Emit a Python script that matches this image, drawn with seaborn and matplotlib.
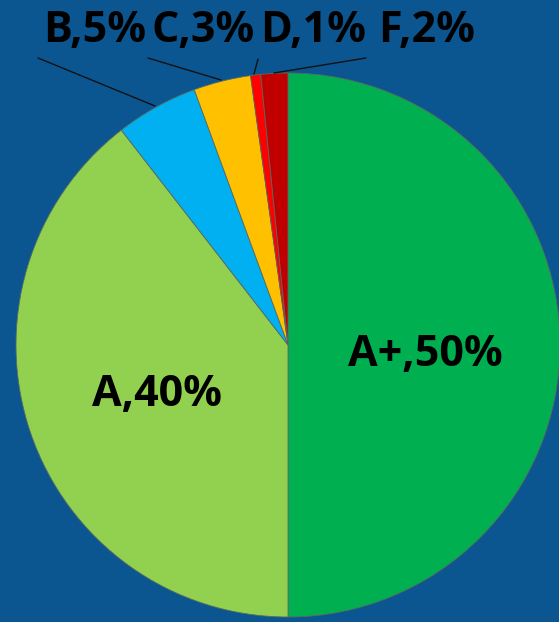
import matplotlib
matplotlib.use("Agg")
import matplotlib.pyplot as plt
import seaborn as sns

sns.set_theme(style="white")
plt.rcParams["font.family"] = ["Open Sans", "DejaVu Sans"]

grades = ["A+", "A", "B", "C", "D", "F"]
shares = [50.0, 39.5, 4.9, 3.4, 0.6, 1.6]
colors = ["#00B050", "#92D050", "#00B0F0", "#FFC000", "#FF0000", "#C00000"]

BG = "#0B5690"

fig = plt.figure(figsize=(5.59, 6.22), dpi=100, facecolor=BG)
ax = fig.add_axes([0, 0, 1, 1])
ax.set_facecolor(BG)

cx, cy, r = 288, 622 - 345, 272
wedges, _ = ax.pie(
    shares, colors=colors, startangle=90, counterclock=False,
    center=(cx, cy), radius=r, frame=True,
    wedgeprops=dict(edgecolor="#5a6a60", linewidth=0.6),
)
ax.set_xlim(0, 559)
ax.set_ylim(0, 622)
ax.set_aspect("equal")
ax.axis("off")

labels = [f"{g},{v:.0f}%" for g, v in zip(grades, shares)]
txt = dict(fontsize=31, fontweight="bold", color="black", ha="center", va="center")

# labels inside the two large slices
ax.text(425, 622 - 355, labels[0], **txt)
ax.text(157, 622 - 395, labels[1], **txt)

# small slices: labels along the top with leader lines
top_pos = {2: (95, 31), 3: (203, 31), 4: (313, 31), 5: (427, 31)}
leaders = {2: ((38, 58), (155, 106)), 3: ((148, 58), (221, 80)),
           4: ((258, 59), (254, 74)), 5: ((366, 58), (274, 73))}
for i, (x, y) in top_pos.items():
    ax.text(x, 622 - y, labels[i], **txt)
    (x0, y0), (x1, y1) = leaders[i]
    ax.plot([x0, x1], [622 - y0, 622 - y1], color="#111111", lw=1)

fig.savefig("out.png", dpi=100, facecolor=BG)
